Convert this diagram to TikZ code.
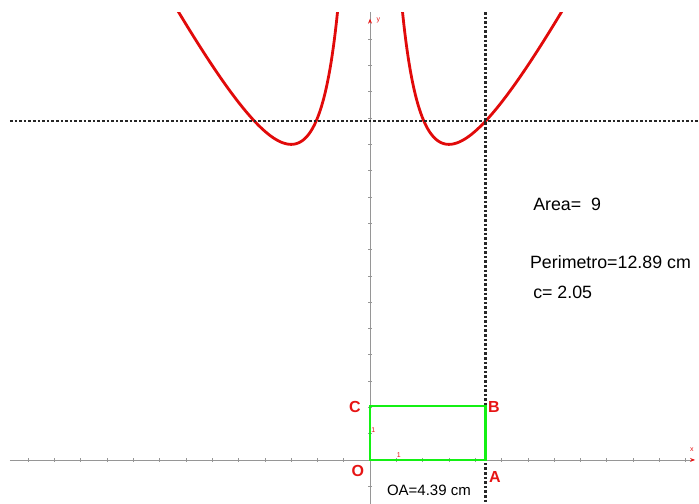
\documentclass[tikz,border=0pt]{standalone}
\usepackage{fontspec}
\setmainfont{Liberation Sans}
\usetikzlibrary{arrows.meta}

\definecolor{curvered}{RGB}{225,10,10}
\definecolor{rectgreen}{RGB}{20,240,20}
\definecolor{axisgrey}{RGB}{150,150,150}
\definecolor{ptred}{RGB}{230,20,20}

\begin{document}
\begin{tikzpicture}[
        x=26.3pt, y=26.3pt,
        axis/.style={
            draw=axisgrey,
            line width=0.8pt,
            -{Stealth[ptred, length=5pt, width=4pt]}
        },
        guide/.style={
            draw=black!85,
            line width=2.2pt,
            dash pattern=on 2.6pt off 2pt
        },
        graph/.style={
            draw=curvered,
            line width=2.8pt,
            samples=120,
            smooth
        },
        pt/.style={
            text=ptred,
            font=\fontsize{16}{18}\selectfont\bfseries,
            inner sep=0pt
        },
        info/.style={
            anchor=west,
            inner sep=0pt,
            font=\fontsize{17.8}{20}\selectfont
        },
        ticklabel/.style={
            text=ptred,
            font=\fontsize{7}{8}\selectfont,
            inner sep=0pt
        }
    ]
    \useasboundingbox (-14.07,-1.673) rectangle (12.51,17.49);

    \coordinate (O) at (0,0);
    \coordinate (A) at (4.39,0);
    \coordinate (B) at (4.39,2.05);
    \coordinate (C) at (0,2.05);

    % axes and ticks
    \draw[axis] (-13.69,0) -- (12.36,0);
    \draw[draw=axisgrey, line width=0.8pt] (0,-1.673) -- (0,17.03);
    \draw[axis] (0,16.3) -- (0,16.78);
    \foreach \i in {-13,...,-1,1,2,...,12}
        \draw[axisgrey, line width=0.6pt] (\i,-0.06) -- (\i,0.06);
    \foreach \j in {-1,1,2,...,16}
        \draw[axisgrey, line width=0.6pt] (-0.06,\j) -- (0.06,\j);
    \node[ticklabel] (xname) at (12.24,0.38) {x};
    \node[ticklabel] (yname) at (0.32,16.7) {y};
    \node[ticklabel] (xone) at (1.1,0.17) {1};
    \node[ticklabel] (yone) at (0.13,1.14) {1};

    % perimeter curve
    \begin{scope}
        \clip (-14.07,-1.673) rectangle (12.51,17.03);
        \draw[graph, domain=1.2:7.4] plot (\x,{2*(\x+9/\x)});
        \draw[graph, domain=-7.6:-1.2] plot (\x,{2*(-\x-9/\x)});
    \end{scope}

    % guide lines through B and P(OA)
    \draw[guide] (-13.69,12.89) -- (12.51,12.89);
    \draw[guide] (4.39,17.03) -- (4.39,-1.673);

    % rectangle
    \draw[rectgreen, line width=2.6pt] (O) -- (A) -- (B) -- (C) -- cycle;

    \node[pt] (labO) at (-0.46,-0.42) {O};
    \node[pt] (labA) at (4.75,-0.65) {A};
    \node[pt] (labB) at (4.71,2.02) {B};
    \node[pt] (labC) at (-0.57,2.02) {C};

    \node[font=\fontsize{15}{18}\selectfont, inner sep=0pt] (oa) at (2.24,-1.14) {OA=4.39 cm};

    \node[info] (area) at (6.20,9.70) {Area=\ \ 9};
    \node[info] (perim) at (6.08,7.53) {Perimetro=12.89 cm};
    \node[info] (cval) at (6.20,6.39) {c= 2.05};
\end{tikzpicture}
\end{document}
